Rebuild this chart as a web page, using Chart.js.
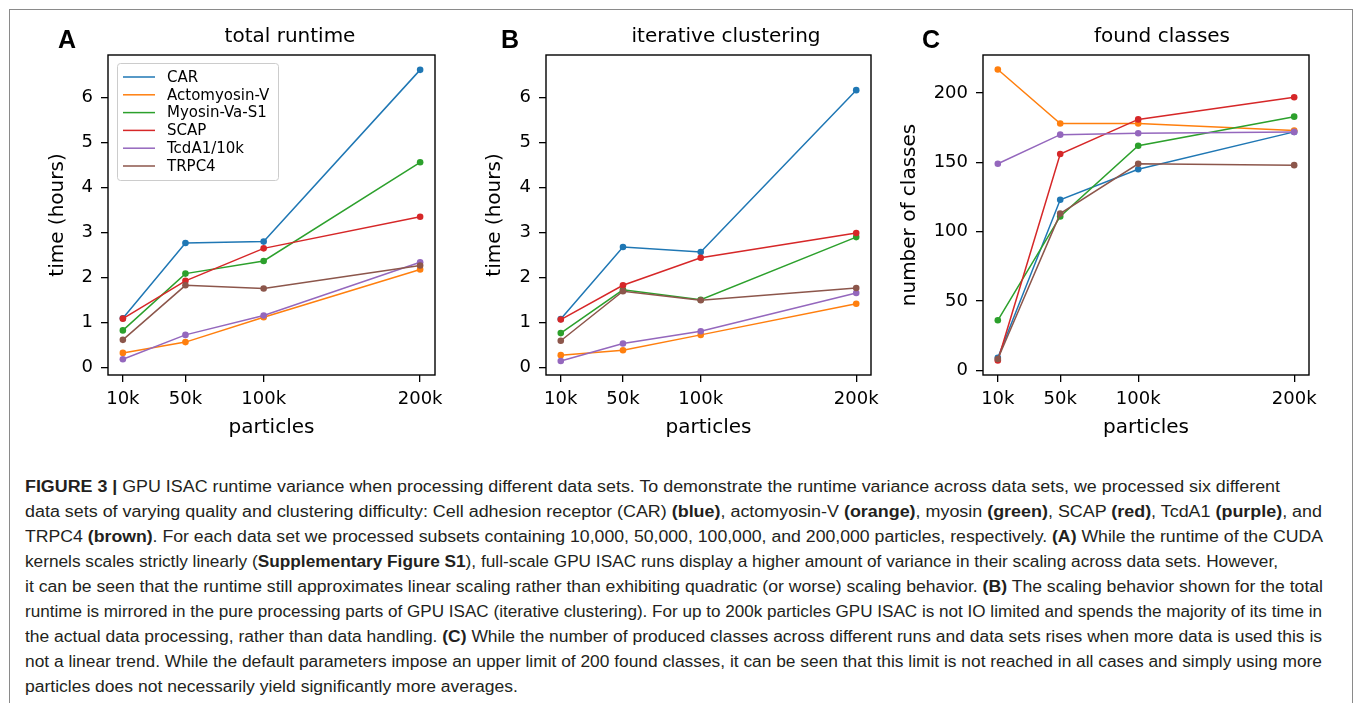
<!DOCTYPE html>
<html>
<head>
<meta charset="utf-8">
<script src="https://cdn.jsdelivr.net/npm/chart.js@4.4.0/dist/chart.umd.min.js"></script>
<style>
  body { margin: 0; background: #fff; }
  #page { position: relative; width: 1355px; height: 703px; overflow: hidden; background: #fff; }
  #frame { position: absolute; left: 9px; top: 9px; width: 1344px; height: 720px; border: 1px solid #8a8a8a; box-sizing: border-box; }
  canvas { position: absolute; top: 0; }
  .letter { position: absolute; top: 25px; font: bold 25px "Liberation Sans", Arial, sans-serif; line-height: 28px; color: #000; transform: translateX(-50%); }
  .title { position: absolute; top: 23px; font: 20px "DejaVu Sans", sans-serif; line-height: 24px; color: #000; transform: translateX(-50%); white-space: nowrap; }
  .cap { position: absolute; left: 25px; font: 16px "Liberation Sans", Arial, sans-serif; line-height: 25px; color: #231f20; white-space: nowrap; transform-origin: 0 50%; }
  .cap b { font-weight: bold; }
</style>
</head>
<body>
<div id="page">
  <div id="frame"></div>
  <canvas id="chartA" width="460" height="450" style="left:0px"></canvas>
  <canvas id="chartB" width="460" height="450" style="left:440px"></canvas>
  <canvas id="chartC" width="460" height="450" style="left:880px"></canvas>

  <div class="letter" style="left:67px">A</div>
  <div class="letter" style="left:510px">B</div>
  <div class="letter" style="left:931px">C</div>
  <div class="title" style="left:290px">total runtime</div>
  <div class="title" style="left:726px">iterative clustering</div>
  <div class="title" style="left:1162px">found classes</div>

  <div class="cap" style="top:474px"><b>FIGURE 3 |</b> GPU ISAC runtime variance when processing different data sets. To demonstrate the runtime variance across data sets, we processed six different</div>
  <div class="cap" style="top:499px">data sets of varying quality and clustering difficulty: Cell adhesion receptor (CAR) <b>(blue)</b>, actomyosin-V <b>(orange)</b>, myosin <b>(green)</b>, SCAP <b>(red)</b>, TcdA1 <b>(purple)</b>, and</div>
  <div class="cap" style="top:524px">TRPC4 <b>(brown)</b>. For each data set we processed subsets containing 10,000, 50,000, 100,000, and 200,000 particles, respectively. <b>(A)</b> While the runtime of the CUDA</div>
  <div class="cap" style="top:549px">kernels scales strictly linearly (<b>Supplementary Figure S1</b>), full-scale GPU ISAC runs display a higher amount of variance in their scaling across data sets. However,</div>
  <div class="cap" style="top:574px">it can be seen that the runtime still approximates linear scaling rather than exhibiting quadratic (or worse) scaling behavior. <b>(B)</b> The scaling behavior shown for the total</div>
  <div class="cap" style="top:599px">runtime is mirrored in the pure processing parts of GPU ISAC (iterative clustering). For up to 200k particles GPU ISAC is not IO limited and spends the majority of its time in</div>
  <div class="cap" style="top:624px">the actual data processing, rather than data handling. <b>(C)</b> While the number of produced classes across different runs and data sets rises when more data is used this is</div>
  <div class="cap" style="top:649px">not a linear trend. While the default parameters impose an upper limit of 200 found classes, it can be seen that this limit is not reached in all cases and simply using more</div>
  <div class="cap" style="top:674px">particles does not necessarily yield significantly more averages.</div>
</div>

<script>
//Particle counts (thousands) and tick labels
const particles = [10, 50, 100, 200];
const xTickLabels = ["10k", "50k", "100k", "200k"];
const timeTicks = [0, 1, 2, 3, 4, 5, 6];
const classTicks = [0, 50, 100, 150, 200];

//Data sets, matplotlib default colours
const seriesNames = ["CAR", "Actomyosin-V", "Myosin-Va-S1", "SCAP", "TcdA1/10k", "TRPC4"];
const seriesColors = ["#1f77b4", "#ff7f0e", "#2ca02c", "#d62728", "#9467bd", "#8c564b"];

//(A) total runtime in hours, one row per data set
const totalRuntime = [
  [1.10, 2.77, 2.80, 6.61],
  [0.33, 0.57, 1.12, 2.18],
  [0.83, 2.09, 2.37, 4.56],
  [1.09, 1.93, 2.65, 3.35],
  [0.19, 0.73, 1.16, 2.34],
  [0.62, 1.83, 1.76, 2.27],
];
//(B) iterative clustering in hours
const clusteringTime = [
  [1.08, 2.68, 2.57, 6.16],
  [0.28, 0.39, 0.73, 1.42],
  [0.77, 1.73, 1.51, 2.90],
  [1.07, 1.83, 2.44, 2.99],
  [0.15, 0.54, 0.81, 1.66],
  [0.60, 1.70, 1.50, 1.77],
];
//(C) number of found classes
const foundClasses = [
  [9, 123, 145, 172],
  [217, 178, 178, 173],
  [36, 111, 162, 183],
  [7, 156, 181, 197],
  [149, 170, 171, 172],
  [8, 113, 149, 148],
];

Chart.defaults.font.family = "'DejaVu Sans', sans-serif";
Chart.defaults.color = "#000";

//Black box round the plot area, like matplotlib spines
const frameBox = {
  id: "frameBox",
  afterDatasetsDraw(chart) {
    const a = chart.chartArea;
    const ctx = chart.ctx;
    ctx.save();
    ctx.strokeStyle = "#000";
    ctx.lineWidth = 1.4;
    ctx.strokeRect(a.left, a.top, a.right - a.left, a.bottom - a.top);
    ctx.restore();
  },
};

//Legend drawn inside the top left corner (panel A only)
const insideLegend = {
  id: "insideLegend",
  afterDraw(chart, args, opts) {
    if (!opts.show) return;
    const ctx = chart.ctx;
    const x = 117, y = 63, w = 161, h = 117;
    ctx.save();
    ctx.fillStyle = "rgba(255,255,255,0.85)";
    ctx.strokeStyle = "#cccccc";
    ctx.lineWidth = 1;
    ctx.beginPath();
    ctx.roundRect(x + 0.5, y + 0.5, w, h, 3);
    ctx.fill();
    ctx.stroke();
    ctx.font = "15px 'DejaVu Sans', sans-serif";
    ctx.textBaseline = "middle";
    chart.data.datasets.forEach((ds, i) => {
      const rowY = 77 + i * 17.8;
      ctx.strokeStyle = ds.borderColor;
      ctx.lineWidth = 1.5;
      ctx.beginPath();
      ctx.moveTo(123, rowY);
      ctx.lineTo(155, rowY);
      ctx.stroke();
      ctx.fillStyle = "#000";
      ctx.fillText(ds.label, 167, rowY + 1);
    });
    ctx.restore();
  },
};

function makeChart(canvasId, rows, yMin, yMax, yTicks, yTitle, yWidth, yTitlePad, rightPad, showLegend) {
  const datasets = rows.map((values, i) => ({
    label: seriesNames[i],
    data: particles.map((p, j) => ({ x: p, y: values[j] })),
    borderColor: seriesColors[i],
    backgroundColor: seriesColors[i],
    borderWidth: 1.5,
    pointRadius: 3.3,
    pointBorderWidth: 0,
    order: -i,
  }));
  const ctx = document.getElementById(canvasId).getContext("2d");
  return new Chart(ctx, {
    type: "line",
    data: { datasets: datasets },
    plugins: [frameBox, insideLegend],
    options: {
      responsive: false,
      animation: false,
      devicePixelRatio: 1,
      layout: { padding: { top: 55, right: rightPad, left: 0, bottom: 0 } },
      plugins: {
        legend: { display: false },
        tooltip: { enabled: false },
        insideLegend: { show: showLegend },
      },
      scales: {
        x: {
          type: "linear",
          min: 0.5,
          max: 209.5,
          border: { display: false },
          grid: { drawOnChartArea: false, drawTicks: true, tickLength: 7, color: "#000", lineWidth: 1.3 },
          ticks: {
            font: { size: 18 },
            padding: 7,
            autoSkip: false,
            maxRotation: 0,
            callback: (value) => xTickLabels[particles.indexOf(value)],
          },
          afterBuildTicks: (scale) => {
            scale.ticks = particles.map((v) => ({ value: v }));
          },
          afterFit: (scale) => {
            scale.height = 75;
          },
          title: { display: true, text: "particles", font: { size: 20 }, padding: { top: 0, bottom: 10 } },
        },
        y: {
          min: yMin,
          max: yMax,
          border: { display: false },
          grid: { drawOnChartArea: false, drawTicks: true, tickLength: 7, color: "#000", lineWidth: 1.3 },
          ticks: { font: { size: 18 }, padding: 8 },
          afterBuildTicks: (scale) => {
            scale.ticks = yTicks.map((v) => ({ value: v }));
          },
          afterFit: (scale) => {
            scale.width = yWidth;
          },
          title: { display: true, text: yTitle, font: { size: 20 }, padding: { top: yTitlePad, bottom: 0 } },
        },
      },
    },
  });
}

makeChart("chartA", totalRuntime, -0.16, 6.94, timeTicks, "time (hours)", 108, 46, 25, true);
makeChart("chartB", clusteringTime, -0.16, 6.94, timeTicks, "time (hours)", 106, 43, 29, false);
makeChart("chartC", foundClasses, -3.5, 227.5, classTicks, "number of classes", 103, 18, 31, false);

//Fit each caption line to the width it has in the figure
const lineEnds = [1280, 1322, 1323, 1278, 1323, 1322, 1322, 1322];
const capLines = document.querySelectorAll(".cap");
let scaleSum = 0;
capLines.forEach((line, i) => {
  if (i >= lineEnds.length) return;
  const s = (lineEnds[i] - 25) / line.getBoundingClientRect().width;
  line.style.transform = "scaleX(" + s + ")";
  scaleSum += s;
});
capLines[capLines.length - 1].style.transform = "scaleX(" + scaleSum / lineEnds.length + ")";
</script>
</body>
</html>
